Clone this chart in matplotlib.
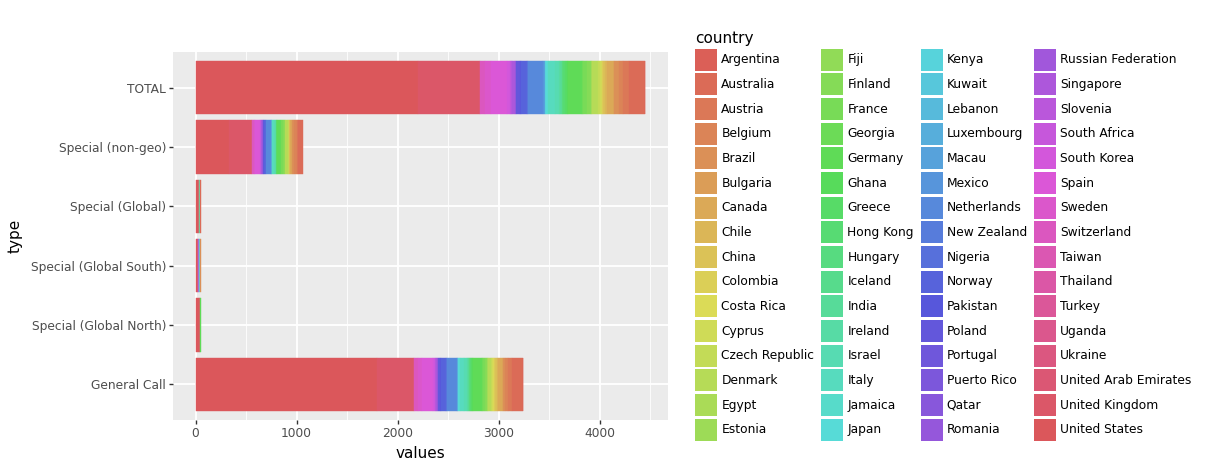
import colorsys
import matplotlib
matplotlib.use("Agg")
import matplotlib.pyplot as plt
from matplotlib.patches import Patch
from matplotlib.ticker import MultipleLocator

countries = [
    "Argentina", "Australia", "Austria", "Belgium", "Brazil", "Bulgaria", "Canada", "Chile",
    "China", "Colombia", "Costa Rica", "Cyprus", "Czech Republic", "Denmark", "Egypt", "Estonia",
    "Fiji", "Finland", "France", "Georgia", "Germany", "Ghana", "Greece", "Hong Kong",
    "Hungary", "Iceland", "India", "Ireland", "Israel", "Italy", "Jamaica", "Japan",
    "Kenya", "Kuwait", "Lebanon", "Luxembourg", "Macau", "Mexico", "Netherlands", "New Zealand",
    "Nigeria", "Norway", "Pakistan", "Poland", "Portugal", "Puerto Rico", "Qatar", "Romania",
    "Russian Federation", "Singapore", "Slovenia", "South Africa", "South Korea", "Spain", "Sweden", "Switzerland",
    "Taiwan", "Thailand", "Turkey", "Uganda", "Ukraine", "United Arab Emirates", "United Kingdom", "United States",
]

types = ["General Call", "Special (Global North)", "Special (Global South)",
         "Special (Global)", "Special (non-geo)", "TOTAL"]

general_call = {
    "United States": 1795, "United Kingdom": 365, "Switzerland": 40, "Sweden": 40, "Spain": 110,
    "South Korea": 20, "Singapore": 15, "Russian Federation": 10, "Slovenia": 10,
    "Norway": 45, "Nigeria": 5, "Pakistan": 10, "Poland": 20, "Netherlands": 100, "Mexico": 10,
    "Kenya": 5, "Japan": 15, "Italy": 40, "Israel": 30, "Ireland": 10, "India": 10, "Hungary": 10,
    "Hong Kong": 15, "Greece": 10, "Ghana": 10, "Germany": 90, "Georgia": 5, "France": 25,
    "Finland": 20, "Estonia": 5, "Egypt": 5, "Denmark": 30, "Czech Republic": 10, "Cyprus": 10,
    "Costa Rica": 5, "Colombia": 10, "China": 15, "Chile": 15, "Canada": 45, "Bulgaria": 5,
    "Brazil": 20, "Belgium": 25, "Austria": 40, "Australia": 110, "Argentina": 5,
}

special_non_geo = {
    "United States": 330, "United Kingdom": 230, "Switzerland": 15, "Sweden": 15, "Spain": 45,
    "South Korea": 10, "Singapore": 10, "Slovenia": 5, "Russian Federation": 5, "Norway": 15,
    "Poland": 15, "Netherlands": 50, "Mexico": 10, "Italy": 20, "Israel": 15, "Japan": 5,
    "Germany": 40, "Greece": 5, "Hong Kong": 10, "France": 20, "Finland": 20, "Denmark": 25,
    "Cyprus": 5, "Czech Republic": 10, "Canada": 25, "China": 5, "Belgium": 20, "Brazil": 20,
    "Australia": 45, "Austria": 15,
}

special_global = {"United States": 30, "United Kingdom": 5, "Germany": 5, "Italy": 5, "Australia": 5}

special_global_south = {"United States": 15, "United Kingdom": 5, "South Africa": 10, "Kenya": 5,
                        "India": 5, "Brazil": 5, "Nigeria": 5}

special_global_north = {"United States": 35, "United Kingdom": 5, "Germany": 10}

total = {
    "United States": 2205, "United Kingdom": 610, "Switzerland": 55, "Sweden": 55, "Spain": 155,
    "South Africa": 10, "South Korea": 30, "Slovenia": 15, "Singapore": 25, "Russian Federation": 15,
    "Poland": 35, "Pakistan": 10, "Norway": 60, "Nigeria": 10, "Netherlands": 150, "Mexico": 20,
    "Kenya": 10, "Japan": 20, "Italy": 65, "Israel": 45, "Ireland": 10, "India": 15, "Hungary": 10,
    "Hong Kong": 25, "Greece": 15, "Ghana": 10, "Germany": 145, "Georgia": 5, "France": 45,
    "Finland": 40, "Estonia": 5, "Egypt": 5, "Denmark": 55, "Czech Republic": 20, "Cyprus": 15,
    "Costa Rica": 5, "Colombia": 10, "China": 20, "Chile": 15, "Canada": 70, "Bulgaria": 5,
    "Brazil": 45, "Belgium": 45, "Austria": 55, "Australia": 160, "Argentina": 5,
}

type_values = [general_call, special_global_north, special_global_south,
               special_global, special_non_geo, total]

# ggplot-like hue palette (HLS)
n = len(countries)
palette = {}
for i, c in enumerate(countries):
    h = (0.01 + i / n) % 1.0
    palette[c] = colorsys.hls_to_rgb(h, 0.6, 0.65)

W, H = 1219, 472
fig = plt.figure(figsize=(W / 100, H / 100), dpi=100)
ax = fig.add_axes([173 / W, 1 - 420 / H, (668 - 173) / W, (420 - 52) / H])
ax.set_facecolor("#EBEBEB")
for s in ax.spines.values():
    s.set_visible(False)

# stack: last country at the left, first at the right (ggplot order)
max_total = 0
for yi, vals in enumerate(type_values):
    left = 0
    for c in reversed(countries):
        v = vals.get(c, 0)
        if v <= 0:
            continue
        ax.barh(yi, v, left=left, height=0.9, color=palette[c],
                edgecolor=palette[c], linewidth=0.3, zorder=3)
        left += v
    max_total = max(max_total, left)

pad = 0.05 * max_total
ax.set_xlim(-pad, max_total + pad)
ax.set_ylim(-0.6, len(types) - 0.4)
ax.set_yticks(range(len(types)))
ax.set_yticklabels(types)
ax.set_xticks([0, 1000, 2000, 3000, 4000])
ax.xaxis.set_minor_locator(MultipleLocator(500))

ax.grid(which="major", color="white", linewidth=1.3, zorder=1)
ax.grid(which="minor", axis="x", color="white", linewidth=0.6, zorder=1)
ax.set_axisbelow(True)
ax.tick_params(axis="both", which="major", length=3, width=1, color="#333333",
               labelcolor="#4D4D4D", labelsize=8.8, pad=2)
ax.tick_params(axis="x", which="minor", length=0)

ax.set_xlabel("values", fontsize=11, color="black", labelpad=4)
ax.set_ylabel("type", fontsize=11, color="black", labelpad=6)

handles = [Patch(facecolor=palette[c], edgecolor="none", label=c) for c in countries]
leg = fig.legend(handles=handles, ncol=4, loc="upper left",
                 bbox_to_anchor=(695 / W, 1 - 31 / H), frameon=False,
                 fontsize=8.8, title="country", title_fontsize=11,
                 handlelength=1.8, handleheight=2.39, handletextpad=0.35,
                 labelspacing=0.22, columnspacing=0.55, borderpad=0,
                 borderaxespad=0, alignment="left")

fig.savefig("out.png", dpi=100)
